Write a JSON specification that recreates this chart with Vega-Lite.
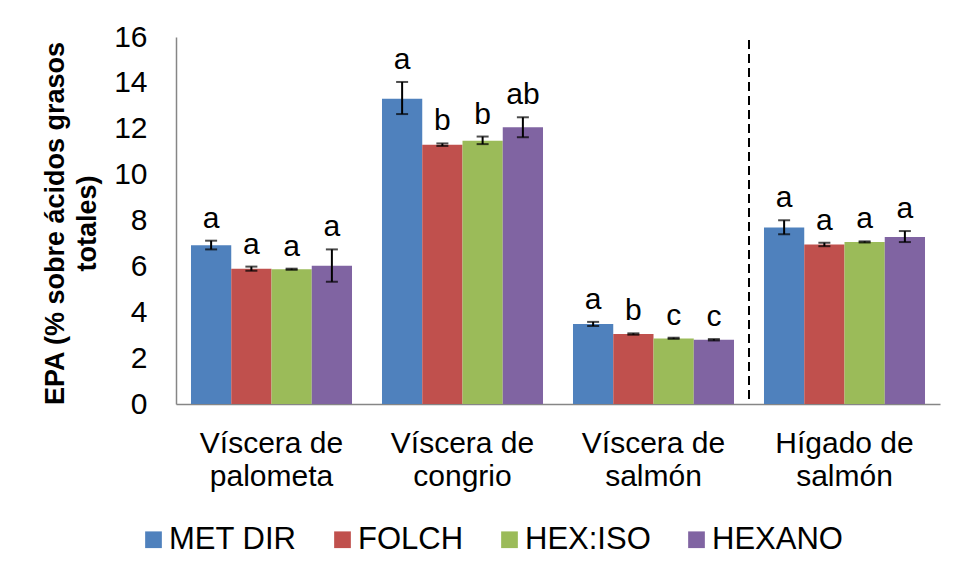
{
  "$schema": "https://vega.github.io/schema/vega-lite/v6.json",
  "width": 764,
  "height": 367,
  "autosize": "none",
  "padding": {"left": 176, "top": 37, "right": 18, "bottom": 173},
  "background": "white",
  "config": {
    "view": {"stroke": null},
    "font": "Liberation Sans",
    "axis": {
      "domainColor": "#868686",
      "domainWidth": 1.5,
      "ticks": false,
      "grid": false,
      "labelColor": "black",
      "titleColor": "black",
      "labelFont": "Liberation Sans",
      "titleFont": "Liberation Sans"
    },
    "legend": {
      "labelFont": "Liberation Sans",
      "labelColor": "black"
    }
  },
  "data": {
    "values": [
      {"grupo": "Víscera de palometa", "metodo": "MET DIR", "epa": 6.92, "lo": 6.74, "hi": 7.12, "letra": "a"},
      {"grupo": "Víscera de palometa", "metodo": "FOLCH", "epa": 5.90, "lo": 5.81, "hi": 5.99, "letra": "a"},
      {"grupo": "Víscera de palometa", "metodo": "HEX:ISO", "epa": 5.87, "lo": 5.85, "hi": 5.90, "letra": "a"},
      {"grupo": "Víscera de palometa", "metodo": "HEXANO", "epa": 6.03, "lo": 5.33, "hi": 6.74, "letra": "a"},
      {"grupo": "Víscera de congrio", "metodo": "MET DIR", "epa": 13.31, "lo": 12.64, "hi": 14.04, "letra": "a"},
      {"grupo": "Víscera de congrio", "metodo": "FOLCH", "epa": 11.30, "lo": 11.25, "hi": 11.36, "letra": "b"},
      {"grupo": "Víscera de congrio", "metodo": "HEX:ISO", "epa": 11.48, "lo": 11.33, "hi": 11.66, "letra": "b"},
      {"grupo": "Víscera de congrio", "metodo": "HEXANO", "epa": 12.06, "lo": 11.63, "hi": 12.50, "letra": "ab"},
      {"grupo": "Víscera de salmón", "metodo": "MET DIR", "epa": 3.49, "lo": 3.40, "hi": 3.58, "letra": "a"},
      {"grupo": "Víscera de salmón", "metodo": "FOLCH", "epa": 3.05, "lo": 3.02, "hi": 3.08, "letra": "b"},
      {"grupo": "Víscera de salmón", "metodo": "HEX:ISO", "epa": 2.86, "lo": 2.84, "hi": 2.89, "letra": "c"},
      {"grupo": "Víscera de salmón", "metodo": "HEXANO", "epa": 2.80, "lo": 2.77, "hi": 2.83, "letra": "c"},
      {"grupo": "Hígado de salmón", "metodo": "MET DIR", "epa": 7.70, "lo": 7.40, "hi": 8.01, "letra": "a"},
      {"grupo": "Hígado de salmón", "metodo": "FOLCH", "epa": 6.95, "lo": 6.88, "hi": 7.03, "letra": "a"},
      {"grupo": "Hígado de salmón", "metodo": "HEX:ISO", "epa": 7.06, "lo": 7.04, "hi": 7.09, "letra": "a"},
      {"grupo": "Hígado de salmón", "metodo": "HEXANO", "epa": 7.28, "lo": 7.06, "hi": 7.54, "letra": "a"}
    ]
  },
  "layer": [
    {
      "encoding": {
        "x": {
          "field": "grupo",
          "type": "nominal",
          "sort": ["Víscera de palometa", "Víscera de congrio", "Víscera de salmón", "Hígado de salmón"],
          "scale": {"paddingInner": 0.157, "paddingOuter": 0.0785},
          "axis": {
            "title": null,
            "labelAngle": 0,
            "labelFontSize": 30,
            "labelLineHeight": 33,
            "labelPadding": 24,
            "labelBaseline": "top",
            "labelExpr": "[slice(datum.label, 0, indexof(datum.label, ' de ') + 3), slice(datum.label, indexof(datum.label, ' de ') + 4)]"
          }
        },
        "xOffset": {
          "field": "metodo",
          "type": "nominal",
          "sort": ["MET DIR", "FOLCH", "HEX:ISO", "HEXANO"],
          "scale": {"paddingInner": 0, "paddingOuter": 0}
        }
      },
      "layer": [
        {
          "mark": {"type": "bar"},
          "encoding": {
            "y": {
              "field": "epa",
              "type": "quantitative",
              "scale": {"domain": [0, 16], "nice": false},
              "axis": {
                "values": [0, 2, 4, 6, 8, 10, 12, 14, 16],
                "labelFontSize": 30,
                "labelPadding": 29,
                "title": ["EPA (% sobre ácidos grasos", "totales)"],
                "titleFontSize": 27,
                "titleFontWeight": "bold",
                "titleLineHeight": 32,
                "titleAngle": 270,
                "titleAlign": "center",
                "titleBaseline": "middle",
                "titleX": -121,
                "titleY": 186
              }
            },
            "color": {
              "field": "metodo",
              "type": "nominal",
              "sort": ["MET DIR", "FOLCH", "HEX:ISO", "HEXANO"],
              "scale": {"range": ["#4F81BD", "#C0504D", "#9BBB59", "#8064A2"]},
              "legend": {
                "title": null,
                "orient": "none",
                "direction": "horizontal",
                "legendX": -38,
                "legendY": 487,
                "padding": 0,
                "symbolType": "square",
                "symbolSize": 279,
                "symbolStrokeWidth": 0,
                "symbolOpacity": 1,
                "labelFontSize": 31,
                "labelOffset": 0,
                "columnPadding": 30,
                "labelLimit": 300
              }
            }
          }
        },
        {
          "mark": {"type": "rule", "color": "black", "strokeWidth": 2},
          "encoding": {
            "y": {"field": "lo", "type": "quantitative"},
            "y2": {"field": "hi"}
          }
        },
        {
          "mark": {"type": "tick", "color": "black", "thickness": 2, "size": 12, "orient": "horizontal"},
          "encoding": {
            "y": {"field": "lo", "type": "quantitative"}
          }
        },
        {
          "mark": {"type": "tick", "color": "black", "thickness": 2, "size": 12, "orient": "horizontal"},
          "encoding": {
            "y": {"field": "hi", "type": "quantitative"}
          }
        },
        {
          "mark": {"type": "text", "fontSize": 30, "baseline": "alphabetic", "dy": -13, "color": "black"},
          "encoding": {
            "y": {"field": "hi", "type": "quantitative"},
            "text": {"field": "letra"}
          }
        }
      ]
    },
    {
      "mark": {"type": "rule", "color": "black", "strokeWidth": 2, "strokeDash": [8, 6]},
      "encoding": {
        "x": {"datum": 3, "type": "quantitative", "scale": {"domain": [0, 4], "nice": false, "zero": false}, "axis": null},
        "y": {"datum": 15.85, "type": "quantitative"},
        "y2": {"datum": 0.25}
      }
    }
  ],
  "resolve": {"scale": {"x": "independent"}}
}
